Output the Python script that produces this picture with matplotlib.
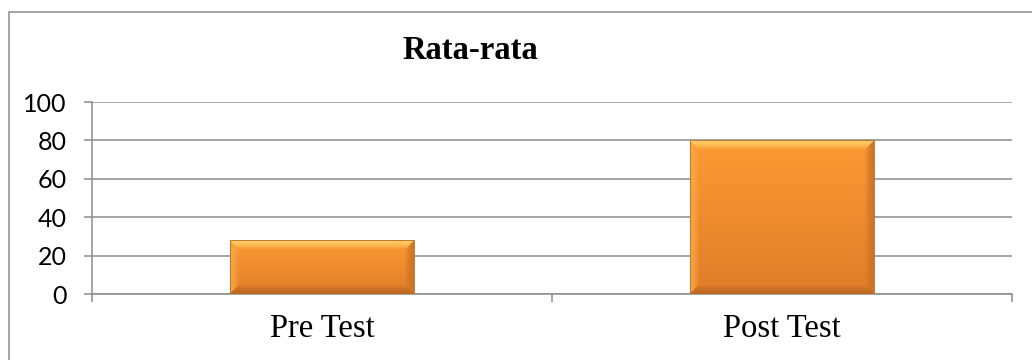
import numpy as np
import matplotlib.pyplot as plt
from matplotlib.colors import to_rgb
from matplotlib.patches import Rectangle

# chart data
categories = ['Pre Test', 'Post Test']
values = [28, 80]
y_ticks = [0, 20, 40, 60, 80, 100]
title = 'Rata-rata'

W, H, DPI = 1032, 360, 100
grid_col = '#8c8c8c'

fig = plt.figure(figsize=(W / DPI, H / DPI), dpi=DPI)
ax = fig.add_axes([92 / W, 1 - 294 / H, (1011.5 - 92) / W, (294 - 102) / H])

x = np.arange(len(categories))
bars = ax.bar(x, values, width=0.4, facecolor='none', edgecolor='#b8692a',
              linewidth=0.6, zorder=4)
ax.set_xlim(-0.5, len(categories) - 0.5)
ax.set_ylim(0, 100)


def bevel_image(w, h, bevel=9):
    """Orange fill with a vertical gradient and mitred bevel edges."""
    top = np.array(to_rgb('#fc9a33'))
    bot = np.array(to_rgb('#e07e2a'))
    t = np.linspace(0, 1, h)[:, None, None]
    img = top * (1 - t) + bot * t
    img = np.repeat(img, w, axis=1)
    ii, jj = np.mgrid[0:h, 0:w]
    d = np.stack([ii, h - 1 - ii, jj, w - 1 - jj])
    side = d.argmin(axis=0)
    dist = d.min(axis=0)
    edge_cols = [to_rgb('#ffd36a'), to_rgb('#bd6622'),
                 to_rgb('#fba847'), to_rgb('#cc7024')]
    for k, col in enumerate(edge_cols):
        m = (side == k) & (dist < bevel)
        a = (1 - (dist[m] / bevel) ** 1.5)[:, None] * 0.9
        img[m] = img[m] * (1 - a) + np.array(col) * a
    return img


# gradient fill for each bar, sized in pixels
fig.canvas.draw()
for b in bars:
    x0, y0 = b.get_x(), b.get_y()
    x1, y1 = x0 + b.get_width(), y0 + b.get_height()
    p0 = ax.transData.transform((x0, y0))
    p1 = ax.transData.transform((x1, y1))
    wpx = max(int(round(p1[0] - p0[0])), 2)
    hpx = max(int(round(p1[1] - p0[1])), 2)
    ax.imshow(bevel_image(wpx, hpx), extent=(x0, x1, y0, y1), aspect='auto',
              interpolation='bilinear', zorder=3)
ax.set_xlim(-0.5, len(categories) - 0.5)
ax.set_ylim(0, 100)

# axes styling
ax.set_yticks(y_ticks)
ax.yaxis.grid(True, color=grid_col, linewidth=1.1)
ax.set_axisbelow(True)
for s in ['top', 'right']:
    ax.spines[s].set_visible(False)
for s in ['left', 'bottom']:
    ax.spines[s].set_color(grid_col)
    ax.spines[s].set_linewidth(1.1)

ax.set_xticks(x)
ax.set_xticklabels(categories, fontfamily='Liberation Serif', fontsize=23.5)
ax.set_xticks(np.arange(len(categories) + 1) - 0.5, minor=True)
ax.tick_params(axis='x', which='major', length=0, pad=14)
ax.tick_params(axis='x', which='minor', length=5.8, width=1.1, color=grid_col,
               direction='out')
ax.tick_params(axis='y', length=5.8, width=1.1, color=grid_col, direction='out',
               pad=12.5)
for lab in ax.get_yticklabels():
    lab.set_fontfamily('Lato')
    lab.set_fontsize(18)

fig.text(470 / W, 1 - 59.3 / H, title, ha='center', va='baseline',
         fontfamily='Liberation Serif', fontweight='bold', fontsize=23.5)

# chart frame
fig.patches.append(Rectangle((9 / W, -0.2), 1.2, 1.2 - 12 / H,
                             transform=fig.transFigure, fill=False,
                             edgecolor=grid_col, linewidth=1.1))

fig.savefig('out.png', dpi=DPI)
